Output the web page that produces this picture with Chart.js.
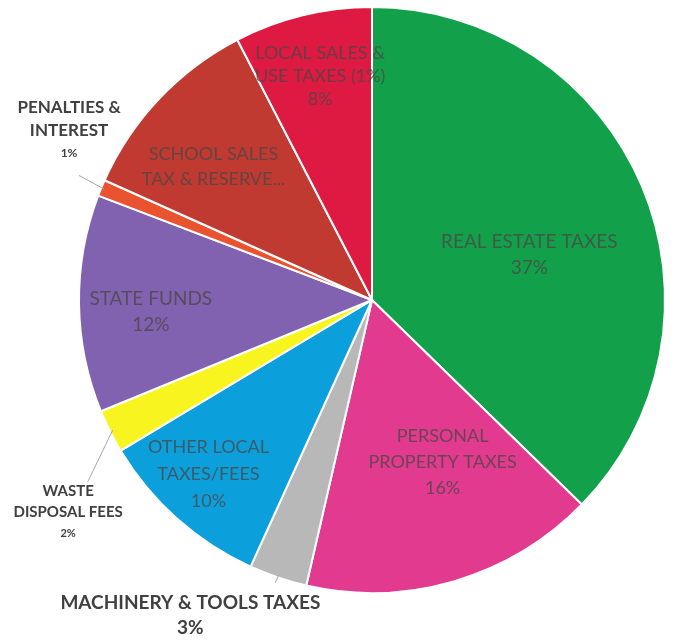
<!DOCTYPE html>
<html>
<head>
<meta charset="utf-8">
<script src="https://cdn.jsdelivr.net/npm/chart.js@4"></script>
<style>
  html, body { margin: 0; padding: 0; background: #fff; }
  #wrap { width: 678px; height: 642px; position: relative; }
</style>
</head>
<body>
<div id="wrap"><canvas id="revenuePie"></canvas></div>
<script>
const categories = ['REAL ESTATE TAXES', 'PERSONAL PROPERTY TAXES', 'MACHINERY & TOOLS TAXES',
    'OTHER LOCAL TAXES/FEES', 'WASTE DISPOSAL FEES', 'STATE FUNDS', 'PENALTIES & INTEREST',
    'SCHOOL SALES TAX & RESERVE...', 'LOCAL SALES & USE TAXES (1%)'];
const shares = [37.3, 16.3, 3.2, 9.6, 2.4, 12.0, 0.9, 10.7, 7.6];
const sliceColors = ['#12a04b', '#e23a8e', '#b8b8b8', '#0ba0dc', '#f8f41f', '#8062b0', '#e9532f', '#c13a31', '#de1a42'];

// how each label is written (line breaks), in slice order
const labelLines = [
    ['REAL ESTATE TAXES'],
    ['PERSONAL', 'PROPERTY TAXES'],
    ['MACHINERY & TOOLS TAXES'],
    ['OTHER LOCAL', 'TAXES/FEES'],
    ['WASTE', 'DISPOSAL FEES'],
    ['STATE FUNDS'],
    ['PENALTIES &', 'INTEREST'],
    ['SCHOOL SALES', 'TAX & RESERVE...'],
    ['LOCAL SALES &', 'USE TAXES (1%)']
];
const showPct = [true, true, true, true, true, true, true, false, true];

const ctx = document.getElementById('revenuePie');
const total = shares.reduce((a, b) => a + b, 0);

// label placement: offset from pie centre in units of radius, plus style
const labelStyle = [
    {fx: 0.537, fy: -0.155, size: 19, pctSize: 19, lh: 26, inside: true},
    {fx: 0.241, fy: 0.555, size: 18, pctSize: 18, lh: 26, inside: true},
    {fx: -0.62, fy: 1.075, size: 19, pctSize: 19, lh: 25, inside: false, lead: [-0.33, 0.965]},
    {fx: -0.558, fy: 0.595, size: 18, pctSize: 18, lh: 27, inside: true},
    {fx: -1.037, fy: 0.725, size: 15, pctSize: 11, lh: 21, inside: false, lead: [-0.97, 0.62]},
    {fx: -0.755, fy: 0.04, size: 19, pctSize: 19, lh: 26, inside: true},
    {fx: -1.034, fy: -0.58, size: 17, pctSize: 12, lh: 23, inside: false, lead: [-1.0, -0.425]},
    {fx: -0.541, fy: -0.456, size: 18, pctSize: 18, lh: 25, inside: true},
    {fx: -0.177, fy: -0.765, size: 18, pctSize: 18, lh: 23, inside: true}
];

const sliceLabels = {
    id: 'sliceLabels',
    afterDatasetsDraw(chart) {
        const c = chart.ctx;
        const arcs = chart.getDatasetMeta(0).data;
        const cx = arcs[0].x, cy = arcs[0].y, r = arcs[0].outerRadius;
        c.save();
        c.textAlign = 'center';
        c.textBaseline = 'middle';
        arcs.forEach((arc, i) => {
            const st = labelStyle[i];
            const lines = labelLines[i].slice();
            const pct = Math.round(shares[i] / total * 100) + '%';
            if (showPct[i]) lines.push(pct);
            const x = cx + st.fx * r;
            const y0 = cy + st.fy * r - (lines.length - 1) * st.lh / 2;
            if (st.lead) {
                const mid = (arc.startAngle + arc.endAngle) / 2;
                c.strokeStyle = '#a6a6a6';
                c.lineWidth = 1;
                c.beginPath();
                c.moveTo(cx + Math.cos(mid) * r * 0.99, cy + Math.sin(mid) * r * 0.99);
                c.lineTo(cx + st.lead[0] * r, cy + st.lead[1] * r);
                c.stroke();
            }
            lines.forEach((t, j) => {
                const isPct = showPct[i] && j === lines.length - 1;
                const size = isPct ? st.pctSize : st.size;
                c.font = (st.inside ? '' : 'bold ') + size + 'px Lato, "Open Sans", sans-serif';
                c.fillStyle = st.inside ? 'rgba(75,70,70,0.78)' : '#404040';
                c.fillText(t, x, y0 + j * st.lh);
            });
        });
        c.restore();
    }
};

new Chart(ctx, {
    type: 'pie',
    data: {
        labels: categories,
        datasets: [{
            data: shares,
            backgroundColor: sliceColors,
            borderColor: '#ffffff',
            borderWidth: 2
        }]
    },
    options: {
        responsive: true,
        maintainAspectRatio: false,
        animation: false,
        layout: { padding: { left: 78, right: 12, top: 6, bottom: 48 } },
        plugins: {
            legend: { display: false },
            tooltip: { enabled: false }
        }
    },
    plugins: [sliceLabels]
});
</script>
</body>
</html>
